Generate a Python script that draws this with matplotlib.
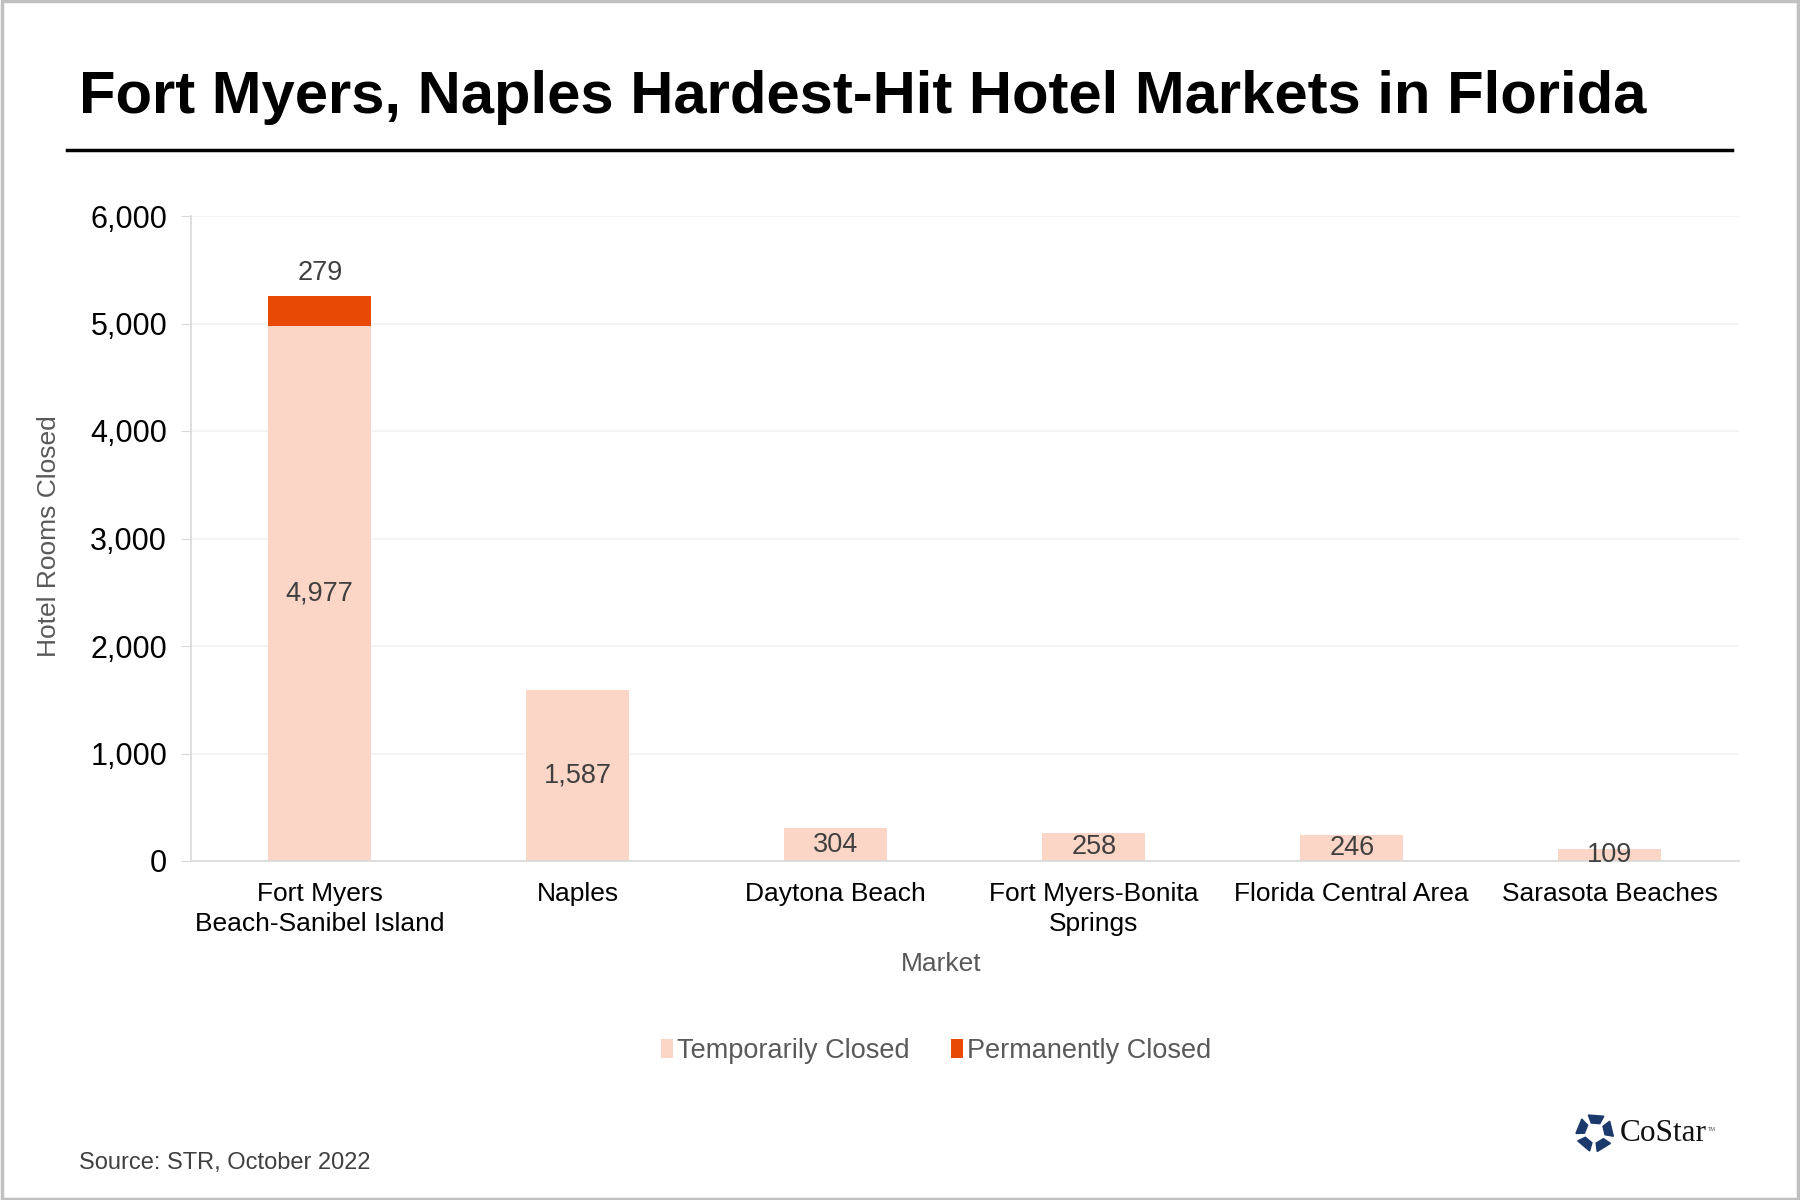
import numpy as np
import matplotlib.pyplot as plt
from matplotlib.patches import Polygon, Rectangle

plt.rcParams['font.family'] = ['Liberation Sans', 'DejaVu Sans']

markets = ["Fort Myers\nBeach-Sanibel Island", "Naples", "Daytona Beach",
           "Fort Myers-Bonita\nSprings", "Florida Central Area", "Sarasota Beaches"]
temp_closed = [4977, 1587, 304, 258, 246, 109]
perm_closed = [279, 0, 0, 0, 0, 0]
yticks = [0, 1000, 2000, 3000, 4000, 5000, 6000]

c_temp = "#FBD5C5"
c_perm = "#E84A05"

fig = plt.figure(figsize=(18, 12), dpi=100)
ax = fig.add_axes([0.106, 0.2825, 0.86, 0.5375])

x = np.arange(len(markets))
b1 = ax.bar(x, temp_closed, width=0.4, color=c_temp, label="Temporarily Closed", zorder=2)
b2 = ax.bar(x, perm_closed, width=0.4, bottom=temp_closed, color=c_perm,
            label="Permanently Closed", zorder=2)

for xi, v in zip(x, temp_closed):
    ax.text(xi, v / 2, f"{v:,}", ha="center", va="center", fontsize=19.5, color="#404040", zorder=3)
for xi, v, t in zip(x, perm_closed, temp_closed):
    if v > 0:
        ax.annotate(f"{v:,}", (xi, t + v), xytext=(0, 7), textcoords="offset points",
                    ha="center", va="bottom", fontsize=19.5, color="#404040")

ax.set_xlim(-0.5, len(markets) - 0.5)
ax.set_ylim(0, 6000)
ax.set_yticks(yticks)
ax.set_yticklabels([f"{t:,}" for t in yticks], fontsize=22, color="#000000")
ax.set_xticks(x)
ax.set_xticklabels(markets, fontsize=19, color="#000000", linespacing=1.3)
ax.tick_params(axis="y", length=7, color="#D9D9D9", pad=10)
ax.tick_params(axis="x", length=0, pad=15)
ax.grid(axis="y", color="#F2F2F2", linewidth=1.2, zorder=0)
for s in ["top", "right"]:
    ax.spines[s].set_visible(False)
ax.spines["left"].set_color("#D9D9D9")
ax.spines["bottom"].set_color("#D9D9D9")
ax.spines["left"].set_linewidth(1.2)
ax.spines["bottom"].set_linewidth(1.2)

fig.text(0.523, 0.197, "Market", ha="center", va="center", fontsize=19, color="#595959")
fig.text(0.027, 0.553, "Hotel Rooms Closed", rotation=90, ha="center", va="center",
         fontsize=19, color="#595959")

leg = fig.legend(handles=[b1, b2], loc="center", bbox_to_anchor=(0.52, 0.124), ncol=2,
                 frameon=False, fontsize=19.5, handlelength=0.45, handleheight=0.7,
                 handletextpad=0.15, columnspacing=1.5)
for t in leg.get_texts():
    t.set_color("#595959")

# title and rule
fig.text(0.044, 0.919, "Fort Myers, Naples Hardest-Hit Hotel Markets in Florida",
         fontsize=43, fontweight="bold", ha="left", va="center", color="#000000")
fig.add_artist(plt.Line2D([0.037, 0.962], [0.875, 0.875], color="#000000", linewidth=2.5))

fig.text(0.044, 0.031, "Source: STR, October 2022", fontsize=17, color="#404040",
         ha="left", va="center")

# CoStar logo
cx, cy, r = 0.886, 0.056, 0.0105
for k in range(5):
    a = np.pi / 2 + k * 2 * np.pi / 5
    a1, a2 = a - 0.5, a + 0.35
    pts = [(cx + r * 0.55 * np.cos(a1), cy + r * 1.5 * 0.55 * np.sin(a1)),
           (cx + r * np.cos(a1), cy + r * 1.5 * np.sin(a1)),
           (cx + r * np.cos(a2), cy + r * 1.5 * np.sin(a2)),
           (cx + r * 0.55 * np.cos(a2), cy + r * 1.5 * 0.55 * np.sin(a2))]
    fig.add_artist(Polygon(pts, closed=True, color="#1B3A6B", transform=fig.transFigure))
fig.text(0.9, 0.0555, "CoStar", fontsize=22.5, family=["Liberation Serif", "DejaVu Serif"],
         color="#111111", ha="left", va="center")
fig.text(0.949, 0.0585, "TM", fontsize=4, color="#555555", ha="left", va="center")

# outer border
fig.add_artist(Rectangle((0.001, 0.001), 0.998, 0.998, fill=False, edgecolor="#C0C0C0",
                         linewidth=2.5, transform=fig.transFigure))

fig.savefig("out.png", dpi=100, facecolor="white")
